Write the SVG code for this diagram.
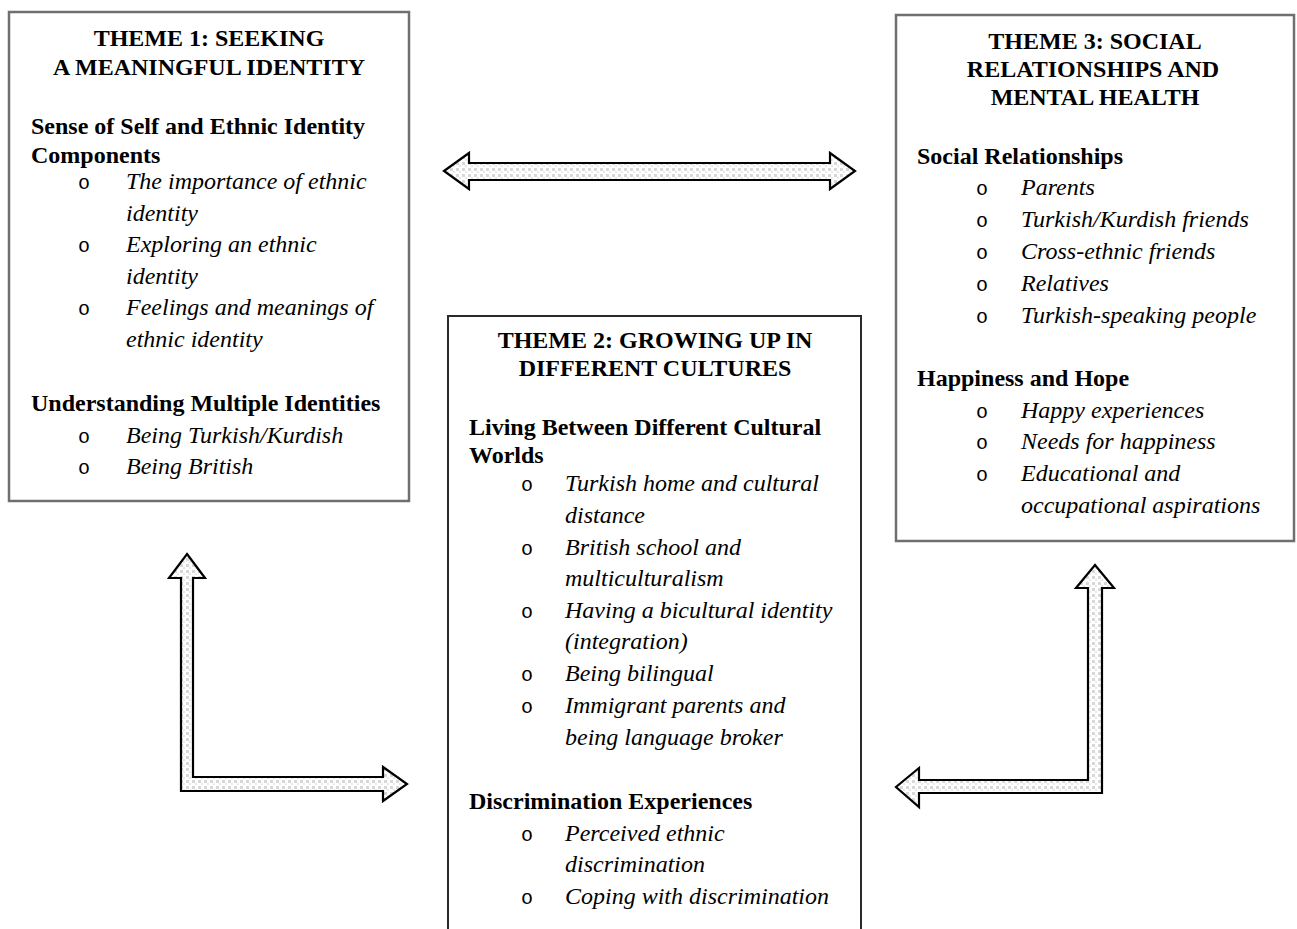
<svg xmlns="http://www.w3.org/2000/svg" width="1297" height="929" viewBox="0 0 1297 929" font-family="'Liberation Serif', 'Times New Roman', serif">
  <style>
    .box { fill: #ffffff; stroke: #6f6f6f; stroke-width: 2.5; }
    .box2 { fill: #ffffff; stroke: #2a2a2a; stroke-width: 2; }
    .t { font-family: 'Liberation Serif', serif; font-size: 24px; fill: #000; }
    .title { font-weight: bold; text-anchor: middle; }
    .head { font-weight: bold; }
    .item { font-style: italic; }
    .dot { font-family: 'Liberation Mono', monospace; font-size: 20px; }
    .arrow { fill: url(#dots); stroke: #000; stroke-width: 2.2; stroke-linejoin: miter; }
  </style>
  <defs>
    <pattern id="dots" width="6" height="6" patternUnits="userSpaceOnUse">
      <rect width="6" height="6" fill="#ffffff"/>
      <rect x="0" y="0" width="3" height="3" fill="#d8d8d8"/>
      <rect x="3" y="3" width="2" height="2" fill="#e8e8e8"/>
    </pattern>
  </defs>

  <rect width="1297" height="929" fill="#ffffff"/>

  <!-- connectors -->
  <g id="connectors">
    <!-- Theme 1 <-> Theme 3 -->
    <path class="arrow" d="M444,171 L469,153 L469,163 L830,163 L830,153 L855,171 L830,189 L830,180 L469,180 L469,189 Z"/>
    <!-- Theme 1 <-> Theme 2 -->
    <path class="arrow" d="M187,554 L205,578 L193,578 L193,777 L383,777 L383,767 L407,784 L383,801 L383,791 L181,791 L181,578 L169,578 Z"/>
    <!-- Theme 3 <-> Theme 2 -->
    <path class="arrow" d="M1095,565 L1114,588 L1102,588 L1102,793 L919,793 L919,807 L896,787 L919,768 L919,780 L1088,780 L1088,588 L1076,588 Z"/>
  </g>

  <!-- Theme 1 -->
  <g id="theme1">
    <rect class="box" x="9" y="12" width="400" height="489"/>
    <text class="t title" x="209" y="46">THEME 1: SEEKING</text>
    <text class="t title" x="209" y="75">A MEANINGFUL IDENTITY</text>
    <text class="t head" x="31" y="134">Sense of Self and Ethnic Identity</text>
    <text class="t head" x="31" y="163">Components</text>
    <text class="t dot" x="78" y="189">o</text>
    <text class="t item" x="126" y="189">The importance of ethnic</text>
    <text class="t item" x="126" y="221">identity</text>
    <text class="t dot" x="78" y="252">o</text>
    <text class="t item" x="126" y="252">Exploring an ethnic</text>
    <text class="t item" x="126" y="284">identity</text>
    <text class="t dot" x="78" y="315">o</text>
    <text class="t item" x="126" y="315">Feelings and meanings of</text>
    <text class="t item" x="126" y="347">ethnic identity</text>
    <text class="t head" x="31" y="411">Understanding Multiple Identities</text>
    <text class="t dot" x="78" y="443">o</text>
    <text class="t item" x="126" y="443">Being Turkish/Kurdish</text>
    <text class="t dot" x="78" y="474">o</text>
    <text class="t item" x="126" y="474">Being British</text>
  </g>

  <!-- Theme 2 -->
  <g id="theme2">
    <rect class="box2" x="448" y="316" width="413" height="640"/>
    <text class="t title" x="655" y="348">THEME 2: GROWING UP IN</text>
    <text class="t title" x="655" y="376">DIFFERENT CULTURES</text>
    <text class="t head" x="469" y="435">Living Between Different Cultural</text>
    <text class="t head" x="469" y="463">Worlds</text>
    <text class="t dot" x="521" y="491">o</text>
    <text class="t item" x="565" y="491">Turkish home and cultural</text>
    <text class="t item" x="565" y="523">distance</text>
    <text class="t dot" x="521" y="555">o</text>
    <text class="t item" x="565" y="555">British school and</text>
    <text class="t item" x="565" y="586">multiculturalism</text>
    <text class="t dot" x="521" y="618">o</text>
    <text class="t item" x="565" y="618">Having a bicultural identity</text>
    <text class="t item" x="565" y="649">(integration)</text>
    <text class="t dot" x="521" y="681">o</text>
    <text class="t item" x="565" y="681">Being bilingual</text>
    <text class="t dot" x="521" y="713">o</text>
    <text class="t item" x="565" y="713">Immigrant parents and</text>
    <text class="t item" x="565" y="745">being language broker</text>
    <text class="t head" x="469" y="809">Discrimination Experiences</text>
    <text class="t dot" x="521" y="841">o</text>
    <text class="t item" x="565" y="841">Perceived ethnic</text>
    <text class="t item" x="565" y="872">discrimination</text>
    <text class="t dot" x="521" y="904">o</text>
    <text class="t item" x="565" y="904">Coping with discrimination</text>
  </g>

  <!-- Theme 3 -->
  <g id="theme3">
    <rect class="box" x="896" y="15" width="398" height="526"/>
    <text class="t title" x="1095" y="49">THEME 3: SOCIAL</text>
    <text class="t title" x="1093" y="77">RELATIONSHIPS AND</text>
    <text class="t title" x="1095" y="105">MENTAL HEALTH</text>
    <text class="t head" x="917" y="164">Social Relationships</text>
    <text class="t dot" x="976" y="195">o</text>
    <text class="t item" x="1021" y="195">Parents</text>
    <text class="t dot" x="976" y="227">o</text>
    <text class="t item" x="1021" y="227">Turkish/Kurdish friends</text>
    <text class="t dot" x="976" y="259">o</text>
    <text class="t item" x="1021" y="259">Cross-ethnic friends</text>
    <text class="t dot" x="976" y="291">o</text>
    <text class="t item" x="1021" y="291">Relatives</text>
    <text class="t dot" x="976" y="323">o</text>
    <text class="t item" x="1021" y="323">Turkish-speaking people</text>
    <text class="t head" x="917" y="386">Happiness and Hope</text>
    <text class="t dot" x="976" y="418">o</text>
    <text class="t item" x="1021" y="418">Happy experiences</text>
    <text class="t dot" x="976" y="449">o</text>
    <text class="t item" x="1021" y="449">Needs for happiness</text>
    <text class="t dot" x="976" y="481">o</text>
    <text class="t item" x="1021" y="481">Educational and</text>
    <text class="t item" x="1021" y="513">occupational aspirations</text>
  </g>
</svg>
